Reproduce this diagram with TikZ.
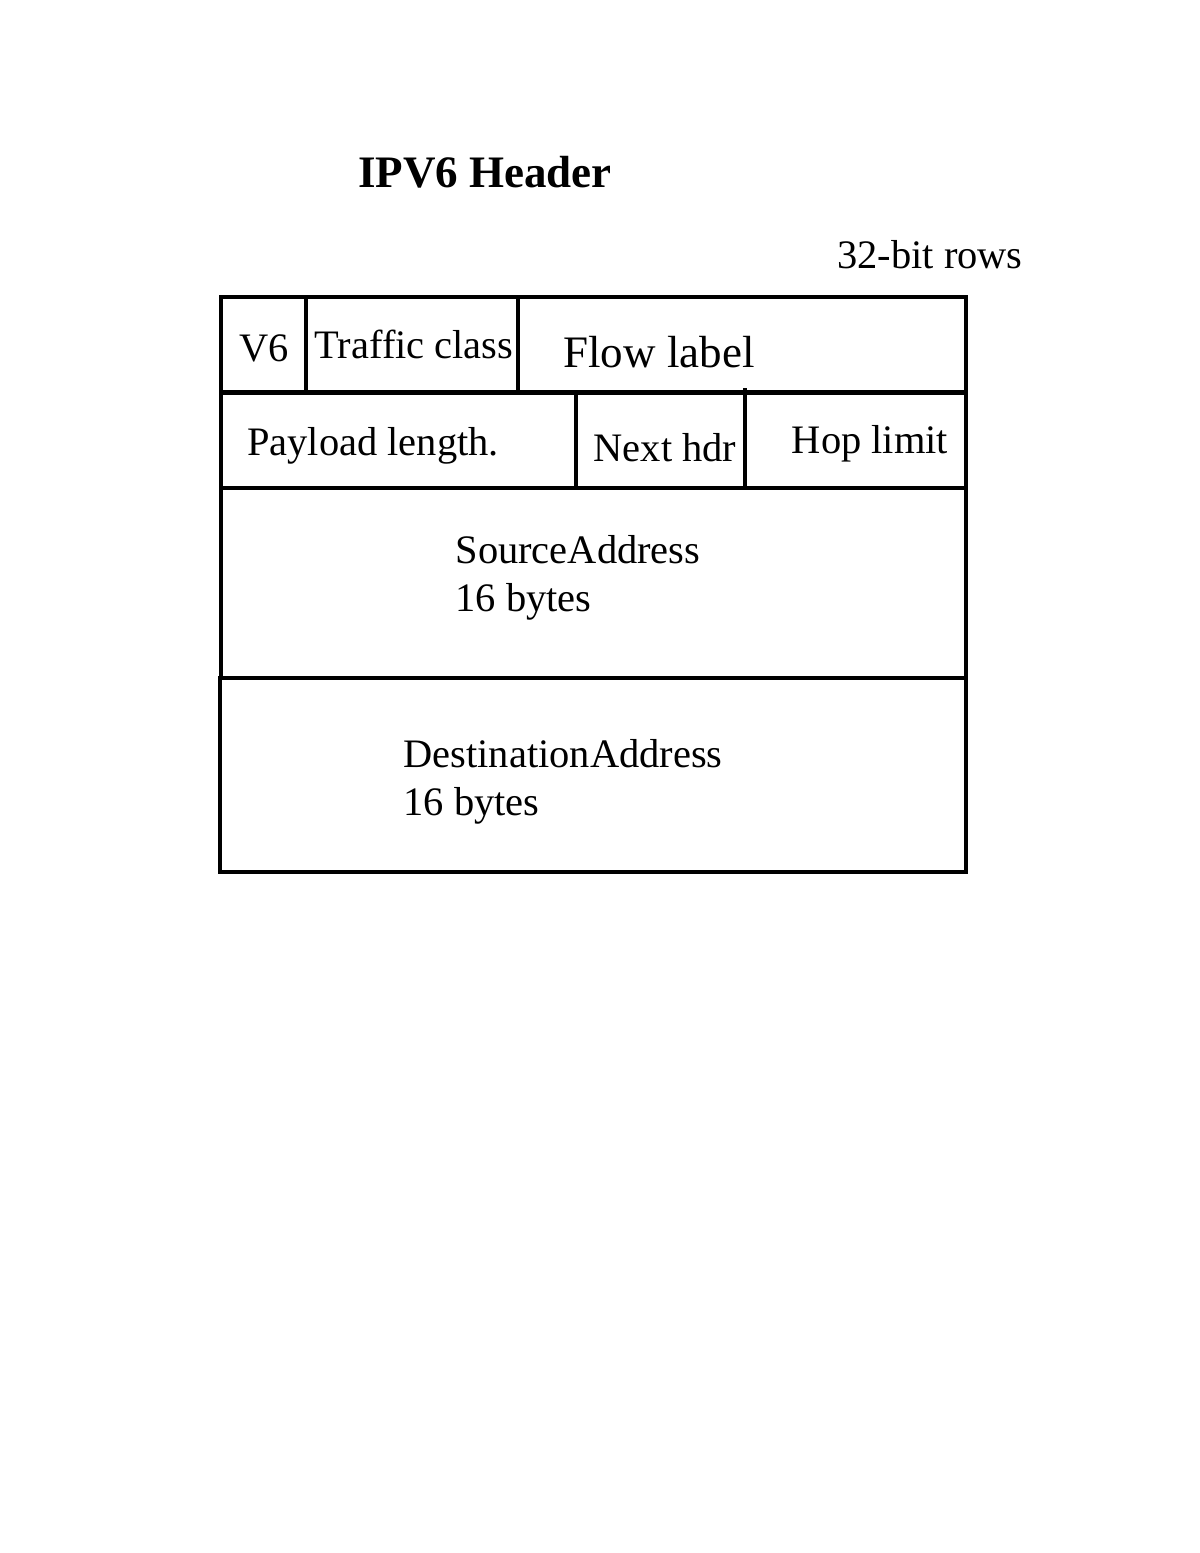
\documentclass[tikz,border=0pt]{standalone}
\usepackage{fontspec}
\setmainfont{Liberation Serif}
\begin{document}
\begin{tikzpicture}[x=0.01cm,y=-0.01cm,line width=0.9pt,
  lbl/.style={inner sep=0pt,font=\fontsize{11.5pt}{13.5pt}\selectfont},
  big/.style={inner sep=0pt,font=\fontsize{12.8pt}{15pt}\selectfont}]
\useasboundingbox (0,0) rectangle (1200,1553);
\node[big,font=\fontsize{12.8pt}{15pt}\selectfont\bfseries] (title) at (485,172) {IPV6 Header};
\node[lbl] (rows) at (930,255) {32-bit rows};
\draw (221,297) rectangle (966,392);
\draw (221,393) rectangle (966,488);
\draw (221,488) rectangle (966,678);
\draw (220,678) rectangle (966,872);
\draw (306,297) -- (306,392);
\draw (518,297) -- (518,395);
\draw (576,393) -- (576,490);
\draw (745,388) -- (745,488);
\node[lbl] (v6) at (264,348) {V6};
\node[lbl] (tc) at (414,344) {Traffic class};
\node[big] (fl) at (659,352) {Flow label};
\node[lbl] (pl) at (373,446) {Payload length.};
\node[lbl] (nh) at (665,448) {Next hdr};
\node[lbl] (hl) at (870,444) {Hop limit};
\node[lbl,anchor=west,align=left] (src) at (454,578) {SourceAddress\\16 bytes};
\node[lbl,anchor=west,align=left] (dst) at (402,782) {DestinationAddress\\16 bytes};
\end{tikzpicture}
\end{document}
